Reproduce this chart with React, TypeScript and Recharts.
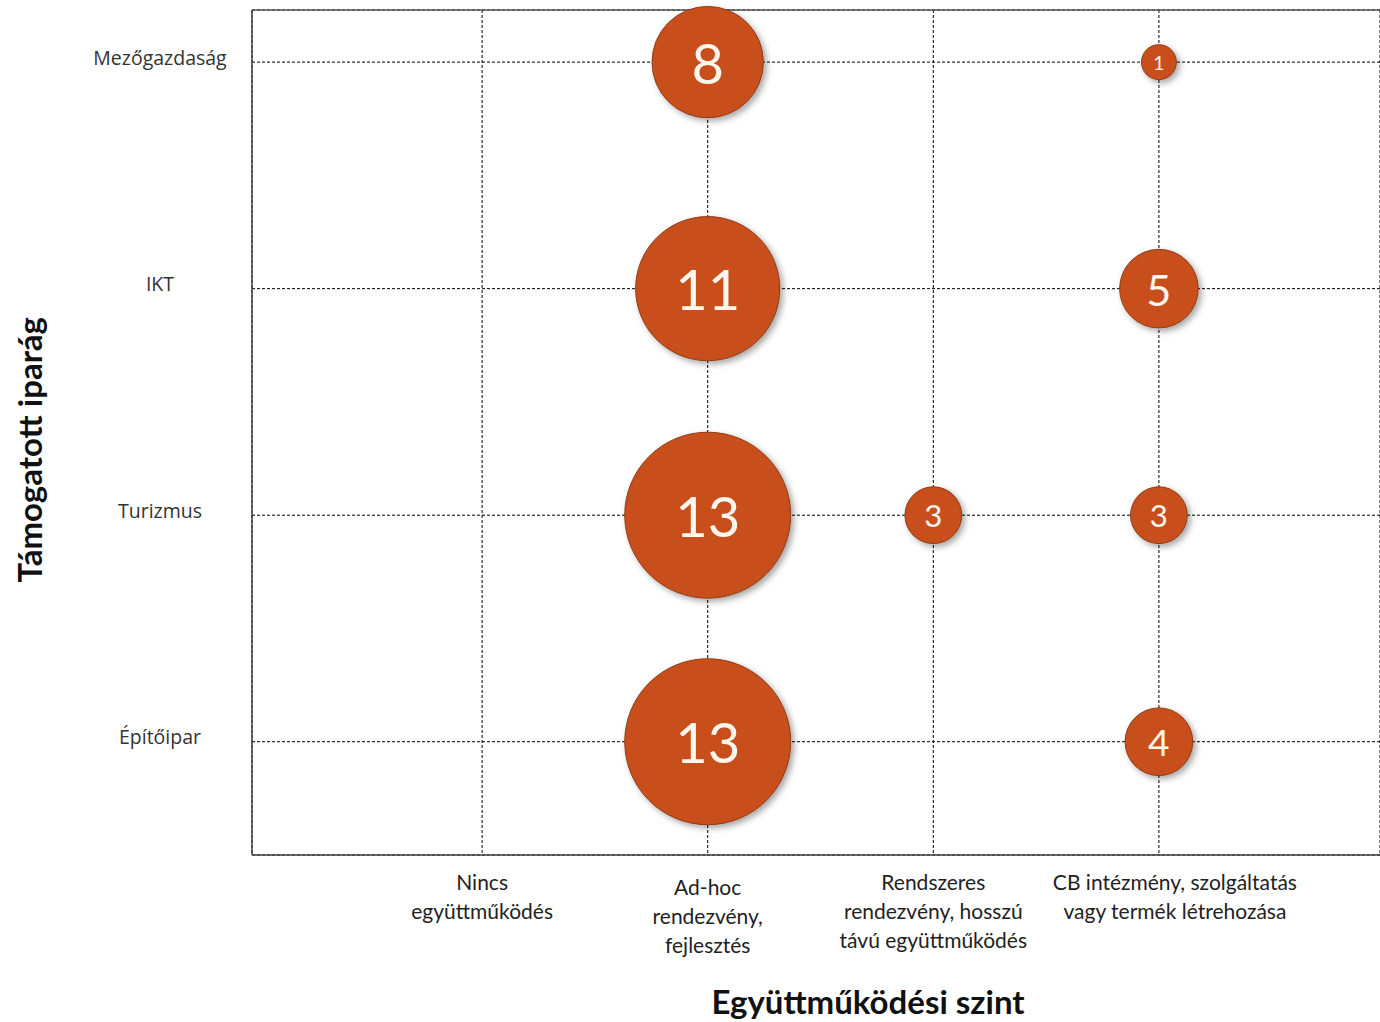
import { ScatterChart, Scatter, XAxis, YAxis, ZAxis, CartesianGrid, ReferenceLine, Label } from 'recharts';

// cooperation levels (x), left to right
const levels = ['Nincs', 'Ad-hoc', 'Rendszeres', 'CB'];
const levelLabels = [
  ['Nincs', 'együttműködés'],
  ['Ad-hoc', 'rendezvény,', 'fejlesztés'],
  ['Rendszeres', 'rendezvény, hosszú', 'távú együttműködés'],
  ['CB intézmény, szolgáltatás', 'vagy termék létrehozása'],
];

// supported industries (y), bottom to top
const industries = ['Építőipar', 'Turizmus', 'IKT', 'Mezőgazdaság'];

// bubbles
const bubbleLevel = ['Ad-hoc', 'CB', 'Ad-hoc', 'CB', 'Ad-hoc', 'Rendszeres', 'CB', 'Ad-hoc', 'CB'];
const bubbleIndustry = ['Mezőgazdaság', 'Mezőgazdaság', 'IKT', 'IKT', 'Turizmus', 'Turizmus', 'Turizmus', 'Építőipar', 'Építőipar'];
const bubbleCount = [8, 1, 11, 5, 13, 3, 3, 13, 4];

const data = bubbleCount.map((count, i) => ({
  x: levels.indexOf(bubbleLevel[i]),
  y: industries.indexOf(bubbleIndustry[i]),
  count,
}));

const FILL = '#C8501D';

function Bubble(props: any) {
  const { cx, cy, size, width, payload } = props;
  const r = typeof size === 'number' ? size : width / 2;
  const fontSize = Math.min(r * 1.1, 56);
  return (
    <g>
      <circle cx={cx} cy={cy} r={r} fill={FILL} stroke="#8E3A15" strokeWidth={1} filter="url(#bubbleShadow)" />
      <text
        x={cx}
        y={cy}
        textAnchor="middle"
        dominantBaseline="central"
        fill="#FFF6EE"
        fontSize={fontSize}
        fontFamily="Lato, 'Open Sans', sans-serif"
      >
        {payload.count}
      </text>
    </g>
  );
}

function LevelTick(props: any) {
  const { x, payload } = props;
  const lines = levelLabels[payload.value] || [];
  const top = payload.value === 1 ? 889 : 884;
  const cx = payload.value === 3 ? x + 16 : x;
  return (
    <text x={cx} y={top} textAnchor="middle" fill="#222" fontSize={21} fontFamily="Lato, 'Open Sans', sans-serif">
      {lines.map((line, i) => (
        <tspan key={i} x={cx} dy={i === 0 ? 6 : 29}>{line}</tspan>
      ))}
    </text>
  );
}

function IndustryTick(props: any) {
  const { y, payload } = props;
  return (
    <text x={160} y={y - 5} textAnchor="middle" dominantBaseline="central" fill="#333" fontSize={19.5} fontFamily="'Open Sans', 'Noto Sans', sans-serif">
      {industries[payload.value]}
    </text>
  );
}

export default function App() {
  return (
    <div style={{ position: 'absolute', left: 0, top: 0, width: 1380, height: 1022, background: '#fff' }}>
      <ScatterChart width={1380} height={1022} margin={{ top: 10, right: 0, bottom: 0, left: 0 }}>
        <defs>
          <filter id="bubbleShadow" x="-30%" y="-30%" width="160%" height="160%">
            <feDropShadow dx={3} dy={3} stdDeviation={3} floodColor="#000" floodOpacity={0.35} />
          </filter>
        </defs>
        <CartesianGrid stroke="#000" strokeDasharray="3 2" />
        <XAxis
          type="number"
          dataKey="x"
          domain={[-1.02, 3.98]}
          ticks={[0, 1, 2, 3]}
          height={167}
          tick={<LevelTick />}
          tickLine={false}
          axisLine={{ stroke: '#404040', strokeWidth: 1.5 }}
          interval={0}
        >
          <Label
            value="Együttműködési szint"
            position="insideBottom"
            offset={8}
            dx={52}
            fill="#111"
            fontSize={33}
            fontWeight="bold"
            fontFamily="Lato, 'Open Sans', sans-serif"
          />
        </XAxis>
        <YAxis
          type="number"
          dataKey="y"
          domain={[-0.5, 3.23]}
          ticks={[0, 1, 2, 3]}
          width={252}
          tick={<IndustryTick />}
          tickLine={false}
          axisLine={{ stroke: '#404040', strokeWidth: 1.5 }}
          interval={0}
        >
          <Label
            value="Támogatott iparág"
            angle={-90}
            position="insideLeft"
            offset={30}
            dy={150}
            fill="#111"
            fontSize={33}
            fontWeight="bold"
            fontFamily="Lato, 'Open Sans', sans-serif"
          />
        </YAxis>
        <ZAxis type="number" dataKey="count" domain={[0, 13]} range={[12, 83]} />
        <ReferenceLine y={3.23} stroke="#595959" strokeWidth={1.5} />
        <Scatter data={data} shape={<Bubble />} isAnimationActive={false} />
      </ScatterChart>
    </div>
  );
}
